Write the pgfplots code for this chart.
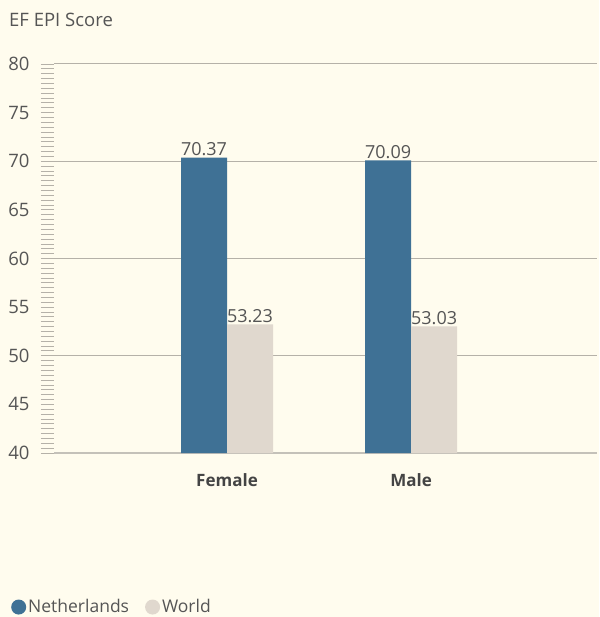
\documentclass[border=0pt]{standalone}
\usepackage{pgfplots}
\pgfplotsset{compat=1.18}
\usepackage{fontspec}
\setmainfont{Open Sans}
\definecolor{bg}{HTML}{FFFCEE}
\definecolor{nl}{HTML}{3F7195}
\definecolor{wd}{HTML}{E0D8CE}
\definecolor{txt}{HTML}{555555}
\definecolor{gridc}{HTML}{B5B1A8}
\begin{document}
\begin{tikzpicture}[x=1pt,y=1pt]
\fill[bg] (-54,-164) rectangle (545,453);
\node[anchor=west,text=txt,font=\fontsize{18.5}{20}\selectfont,inner sep=0pt] at (-45,433) {EF EPI Score};
\begin{axis}[
  at={(0,0)}, anchor=south west,
  scale only axis, width=543pt, height=389pt,
  ymin=40, ymax=80, xmin=-0.94, xmax=2.01,
  ybar=0pt, bar width=46pt,
  axis x line*=bottom, axis y line*=left,
  x axis line style={draw=gridc!80, line width=2pt},
  y axis line style={draw=none},
  xtick={0,1}, xticklabels={Female,Male},
  x tick label style={font=\fontsize{17}{19}\selectfont\bfseries, text=txt!80!black, yshift=-4pt},
  major x tick style={draw=none},
  ytick={40,45,...,80},
  minor y tick num=9,
  tick align=outside,
  major tick length=13pt, minor tick length=13pt,
  y tick style={draw=gridc, line width=0.8pt},
  y tick label style={font=\fontsize{18.5}{20}\selectfont, text=txt, xshift=-8pt},
  /pgf/number format/assume math mode=true,
  extra y ticks={50,60,70,80}, extra y tick labels={},
  extra y tick style={ymajorgrids=true, major tick length=0pt},
  grid style={draw=gridc, line width=1pt},
  nodes near coords,
  nodes near coords style={font=\fontsize{18}{20}\selectfont, text=txt, yshift=-2pt,
    /pgf/number format/fixed, /pgf/number format/fixed zerofill, /pgf/number format/precision=2},
  legend style={at={(axis description cs:-0.0847,-0.396)}, anchor=west, draw=none, fill=none, legend columns=2, font=\fontsize{17.5}{19}\selectfont, text=txt, /tikz/every even column/.append style={column sep=14pt}},
  legend image code/.code={\fill[#1] (1pt,0pt) circle (7.5pt);},
]
\addplot[fill=nl, draw=none] coordinates {(0,70.37) (1,70.09)};
\addplot[fill=wd, draw=none] coordinates {(0,53.23) (1,53.03)};
\legend{Netherlands, World}
\end{axis}
\pgfresetboundingbox
\path[use as bounding box] (-54,-164) rectangle (545,453);
\end{tikzpicture}
\end{document}
